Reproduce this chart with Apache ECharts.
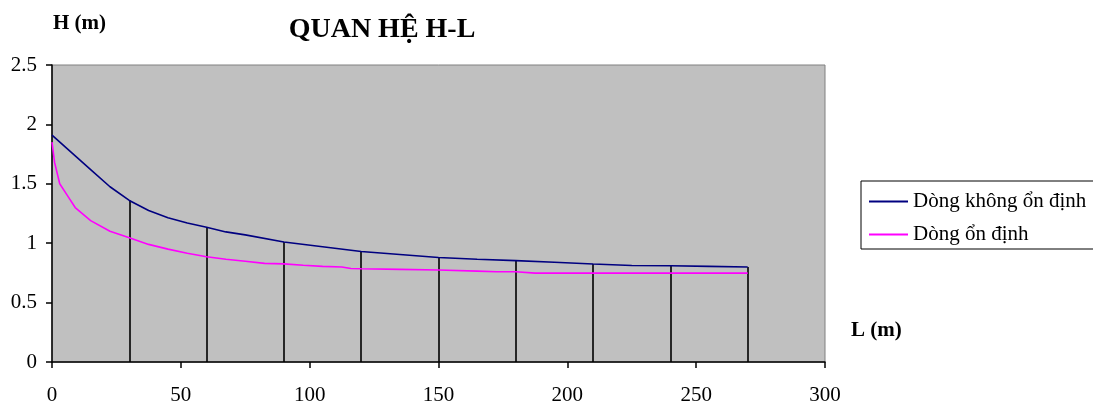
<!DOCTYPE html>
<html>
<head>
<meta charset="utf-8">
<script src="https://cdn.jsdelivr.net/npm/echarts@6/dist/echarts.min.js"></script>
<style>
html,body{margin:0;padding:0;background:#fff;}
#chart{width:1093px;height:406px;}
</style>
</head>
<body>
<div id="chart"></div>
<script>
// Data
var seriesNames = ['Dòng không ổn định', 'Dòng ổn định'];
var unstableL = [0, 7.5, 15, 22.5, 30, 37.5, 45, 52.5, 60, 67.5, 75, 90, 105, 120, 135, 150, 165, 180, 195, 210, 225, 240, 255, 270];
var unstableH = [1.91, 1.765, 1.62, 1.475, 1.36, 1.275, 1.215, 1.17, 1.135, 1.095, 1.07, 1.01, 0.97, 0.93, 0.905, 0.88, 0.865, 0.853, 0.84, 0.825, 0.812, 0.81, 0.805, 0.80];
var stableL = [0, 1, 3, 6, 9, 15, 22.5, 30, 37.5, 45, 52.5, 60, 67.5, 75, 82.5, 90, 97.5, 105, 112.5, 116, 120, 135, 150, 165, 172.5, 180, 187.5, 195, 210, 225, 240, 255, 270];
var stableH = [1.85, 1.68, 1.50, 1.40, 1.30, 1.19, 1.10, 1.045, 0.99, 0.95, 0.915, 0.886, 0.865, 0.848, 0.83, 0.826, 0.815, 0.805, 0.80, 0.787, 0.785, 0.78, 0.775, 0.765, 0.76, 0.76, 0.748, 0.748, 0.748, 0.748, 0.748, 0.748, 0.748];
var dropL = [30, 60, 90, 120, 150, 180, 210, 240, 270];
var xTicks = {min: 0, max: 300, interval: 50};
var yTicks = {min: 0, max: 2.5, interval: 0.5};

var font = "'Liberation Serif', 'Times New Roman', serif";
function pairs(xs, ys){ return xs.map(function(x,i){ return [x, ys[i]]; }); }
var dropLines = dropL.map(function(x){
  var h = unstableH[unstableL.indexOf(x)];
  return [{coord:[x,0]},{coord:[x,h]}];
});

var chart = echarts.init(document.getElementById('chart'));
chart.setOption({
  animation: false,
  backgroundColor: '#ffffff',
  textStyle: {fontFamily: font},
  title: [
    {text: 'QUAN HỆ H-L', left: 377, textAlign: 'center', top: 11,
     textStyle: {fontFamily: font, fontSize: 28, fontWeight: 'bold', color: '#000'}},
    {text: 'H (m)', left: 48, top: 8,
     textStyle: {fontFamily: font, fontSize: 21, fontWeight: 'bold', color: '#000'}},
    {text: 'L (m)', left: 846, top: 315,
     textStyle: {fontFamily: font, fontSize: 21, fontWeight: 'bold', color: '#000'}}
  ],
  grid: {left: 52, top: 65, right: 268, bottom: 42, show: true,
         backgroundColor: '#c0c0c0', borderColor: '#808080', borderWidth: 1},
  legend: {
    left: 861, top: 181, orient: 'vertical',
    data: seriesNames,
    itemWidth: 39, itemHeight: 2, itemGap: 12,
    icon: 'rect',
    padding: [10, 40, 4, 8],
    borderColor: '#000', borderWidth: 1, backgroundColor: '#fff',
    textStyle: {fontFamily: font, fontSize: 21, color: '#000'}
  },
  xAxis: {
    type: 'value', min: xTicks.min, max: xTicks.max, interval: xTicks.interval,
    axisLine: {show: true, onZero: false, lineStyle: {color: '#000', width: 1.5}},
    axisTick: {show: true, length: 6, lineStyle: {color: '#000', width: 1.5}},
    axisLabel: {margin: 23, fontFamily: font, fontSize: 21, color: '#000'},
    splitLine: {show: false}
  },
  yAxis: {
    type: 'value', min: yTicks.min, max: yTicks.max, interval: yTicks.interval,
    axisLine: {show: true, onZero: false, lineStyle: {color: '#000', width: 1.5}},
    axisTick: {show: true, length: 6, lineStyle: {color: '#000', width: 1.5}},
    axisLabel: {margin: 15, fontFamily: font, fontSize: 21, color: '#000'},
    splitLine: {show: false}
  },
  series: [
    {
      name: seriesNames[0], type: 'line', data: pairs(unstableL, unstableH),
      symbol: 'none', smooth: false,
      lineStyle: {color: '#000080', width: 1.6}, itemStyle: {color: '#000080'},
      z: 3,
      markLine: {
        silent: true, symbol: ['none','none'], label: {show: false},
        lineStyle: {color: '#000', type: 'solid', width: 1.6},
        data: dropLines, z: 2
      }
    },
    {
      name: seriesNames[1], type: 'line', data: pairs(stableL, stableH),
      symbol: 'none', smooth: false,
      lineStyle: {color: '#ff00ff', width: 1.6}, itemStyle: {color: '#ff00ff'},
      z: 4
    }
  ]
});
</script>
</body>
</html>
